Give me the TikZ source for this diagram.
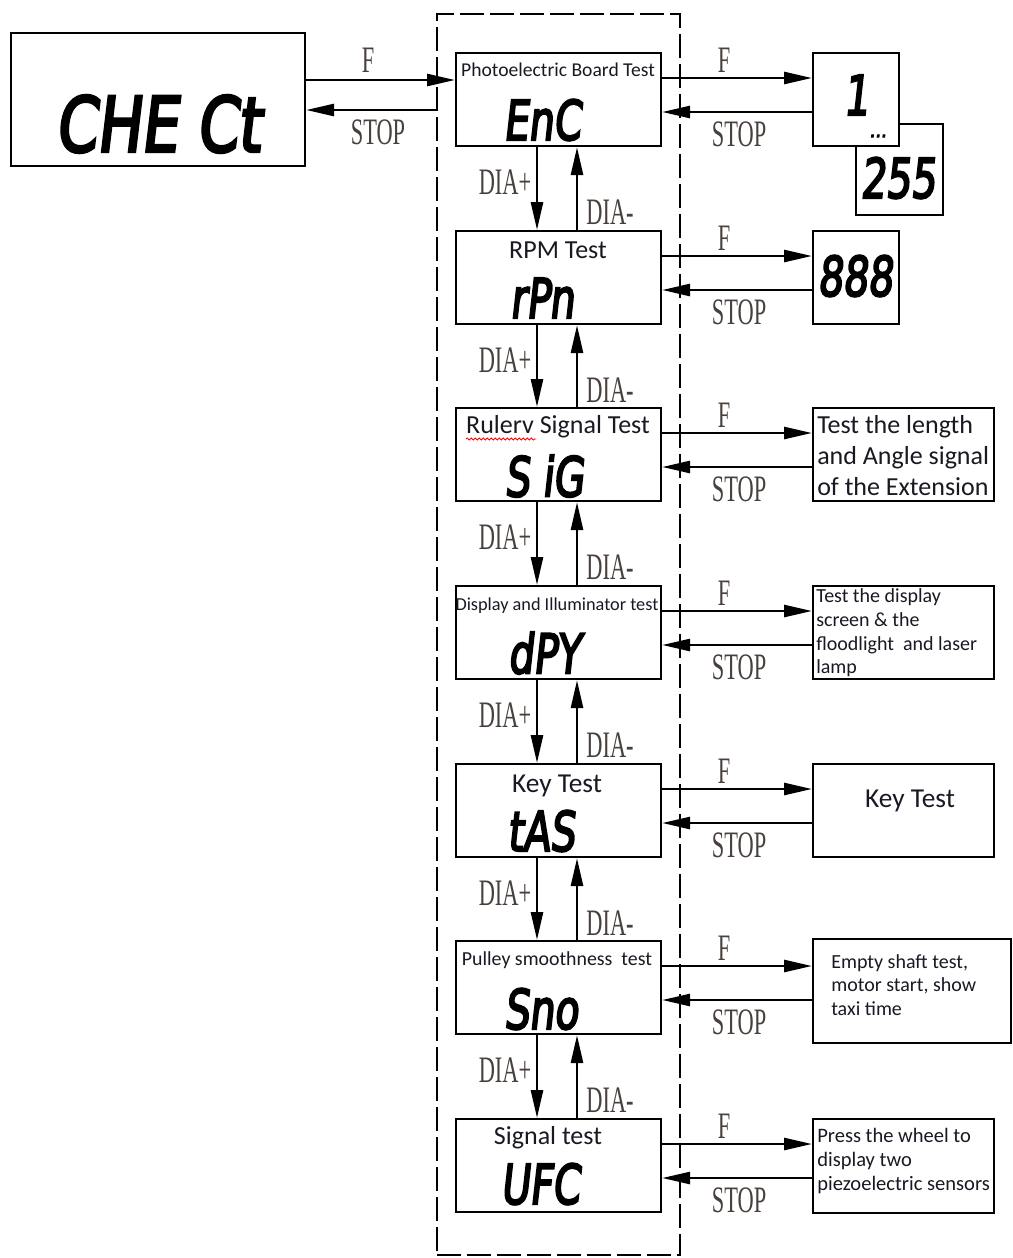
\documentclass[tikz,border=0pt]{standalone}
\usepackage{fontspec}
\usepackage{graphicx}
\setmainfont{Carlito}
\newfontfamily\lcdfont[FakeSlant=0.14,FakeBold=4]{DejaVu Sans Condensed}
\newfontfamily\lblfont{Liberation Serif}
\usetikzlibrary{arrows.meta,calc,decorations.pathmorphing}
\definecolor{lblc}{RGB}{72,64,60}
\definecolor{txtc}{RGB}{25,25,35}
\begin{document}
\begin{tikzpicture}[x=0.75pt,y=-0.75pt,
  bx/.style 2 args={minimum width=#1*0.75pt, minimum height=#2*0.75pt},
  box/.style={draw, line width=1.6pt, inner sep=0pt, anchor=north west, fill=white},
  arr/.style={line width=2pt, -{Triangle[length=21pt,width=9pt]}},
  lbl/.style={font=\lblfont\fontsize{28}{28}\selectfont, text=lblc, inner sep=0pt},
  ttl/.style={text=txtc, inner sep=0pt},
  rtxt/.style={text=txtc, inner sep=0pt, align=left, anchor=west},
  lcd/.style={font=\lcdfont\fontsize{41}{41}\selectfont, inner sep=0pt}]
\useasboundingbox (0,0) rectangle (1013,1258);

% dashed group
\node[draw, line width=1.5pt, dash pattern=on 18pt off 4.5pt, bx={243}{1241}, anchor=north west, inner sep=0pt] (grp) at (436,13) {};

% CHECK box
\node[box, bx={294}{133}] (chk) at (10,32) {};
\node[font=\lcdfont\fontsize{57}{57}\selectfont, inner sep=0pt] (chkt) at (158,124) {\scalebox{0.86}[1]{CHE Ct}};

% main boxes
\node[box, bx={205}{93}] (m1) at (455,52) {};
\node[box, bx={205}{93}] (m2) at (455,230) {};
\node[box, bx={205}{93}] (m3) at (455,407) {};
\node[box, bx={205}{93}] (m4) at (455,585) {};
\node[box, bx={205}{93}] (m5) at (455,763) {};
\node[box, bx={205}{93}] (m6) at (455,940) {};
\node[box, bx={205}{93}] (m7) at (455,1118) {};

% titles
\node[ttl, font=\fontsize{14.7}{15}\selectfont] (t1) at (558,70) {Photoelectric Board Test};
\node[ttl, font=\fontsize{19.5}{20}\selectfont] (t2) at (558,250) {RPM Test};
\node[ttl, font=\fontsize{19.5}{20}\selectfont] (t3) at (558,427) {Rulerv Signal Test};
\node[ttl, font=\fontsize{13.7}{14}\selectfont] (t4) at (557,606) {Display and Illuminator test};
\node[ttl, font=\fontsize{20.5}{21}\selectfont] (t5) at (557,786) {Key Test};
\node[ttl, font=\fontsize{14.9}{15}\selectfont] (t6) at (557,960) {Pulley smoothness\ \ test};
\node[ttl, font=\fontsize{19.5}{20}\selectfont] (t7) at (548,1138) {Signal test};
\draw[red, line width=0.6pt, decorate, decoration={snake, amplitude=0.8pt, segment length=3pt}] (466,439) -- (536,439);

% big LCD texts
\node[lcd] (d1) at (542,120) {\scalebox{0.8}[1]{EnC}};
\node[lcd] (d2) at (542,298) {\scalebox{0.8}[1]{rPn}};
\node[lcd] (d3) at (544,476) {\scalebox{0.8}[1]{S iG}};
\node[lcd] (d4) at (544,653) {\scalebox{0.8}[1]{dPY}};
\node[lcd] (d5) at (541,831) {\scalebox{0.8}[1]{tAS}};
\node[lcd] (d6) at (541,1009) {\scalebox{0.8}[1]{Sno}};
\node[lcd] (d7) at (540,1184) {\scalebox{0.8}[1]{UFC}};

% right boxes
\node[box, bx={87}{91}] (r0) at (855,123) {};
\node[box, bx={86}{93}] (r1) at (812,52) {};
\node[box, bx={86}{93}] (r2) at (812,230) {};
\node[box, bx={181}{93}] (r3) at (812,407) {};
\node[box, bx={181}{93}] (r4) at (812,585) {};
\node[box, bx={181}{93}] (r5) at (812,763) {};
\node[box, bx={198}{104}] (r6) at (812,938) {};
\node[box, bx={181}{94}] (r7) at (812,1118) {};

\node[lcd] (n1) at (856,95) {\scalebox{0.8}[1]{1}};
\node[font=\lcdfont\fontsize{15}{15}\selectfont, inner sep=0pt] (dots) at (878,136) {...};
\node[lcd] (n255) at (898,178) {\scalebox{0.8}[1]{255}};
\node[lcd] (n888) at (855,276) {\scalebox{0.8}[1]{888}};

\node[rtxt, font=\fontsize{19.5}{23.25}\selectfont] (x3) at (817,456) {Test the length\\and Angle signal\\of the Extension};
\node[rtxt, font=\fontsize{15}{17.8}\selectfont] (x4) at (816,633) {Test the display\\screen \& the\\floodlight\ \ and laser\\lamp};
\node[ttl, font=\fontsize{20.5}{21}\selectfont] (x5) at (910,801) {Key Test};
\node[rtxt, font=\fontsize{15}{17.6}\selectfont] (x6) at (831,985) {Empty shaft test,\\motor start,\ show\\taxi time};
\node[rtxt, font=\fontsize{15.4}{18}\selectfont] (x7) at (817,1161) {Press the wheel\ to\\display\ two\\piezoelectric\ sensors};

% CHECK <-> main
\coordinate (cf) at ($(chk.north east)+(0,48)$);
\draw[arr] (cf) -- (cf -| m1.west);
\coordinate (cs) at ($(chk.north east)+(0,78)$);
\draw[arr] (cs -| grp.west) -- (cs);
\node[lbl] (cfl) at (368,60) {\scalebox{0.6}[1]{F}};
\node[lbl] (csl) at (378,132) {\scalebox{0.6}[1]{STOP}};

% main <-> right
\foreach \i in {1,...,7} {
  \coordinate (f\i) at ($(m\i.north east)+(0,26)$);
  \coordinate (s\i) at ($(m\i.north east)+(0,60)$);
  \draw[arr] (f\i) -- (f\i -| r\i.west);
  \draw[arr] (s\i -| r\i.west) -- (s\i);
  \node[lbl] (fl\i) at ($(f\i)+(62,-18)$) {\scalebox{0.6}[1]{F}};
  \node[lbl] (sl\i) at ($(s\i)+(77,22)$) {\scalebox{0.6}[1]{STOP}};
}

% DIA arrows
\foreach \i/\j in {1/2,2/3,3/4,4/5,5/6,6/7} {
  \draw[arr] ($(m\i.south west)+(82,0)$) -- ($(m\j.north west)+(82,0)$);
  \draw[arr] ($(m\j.north west)+(122,0)$) -- ($(m\i.south west)+(122,0)$);
  \node[lbl] (dp\i) at ($(m\i.south west)+(50,35)$) {\scalebox{0.6}[1]{DIA+}};
  \node[lbl] (dm\i) at ($(m\i.south west)+(155,65)$) {\scalebox{0.6}[1]{DIA-}};
}
\end{tikzpicture}
\end{document}
